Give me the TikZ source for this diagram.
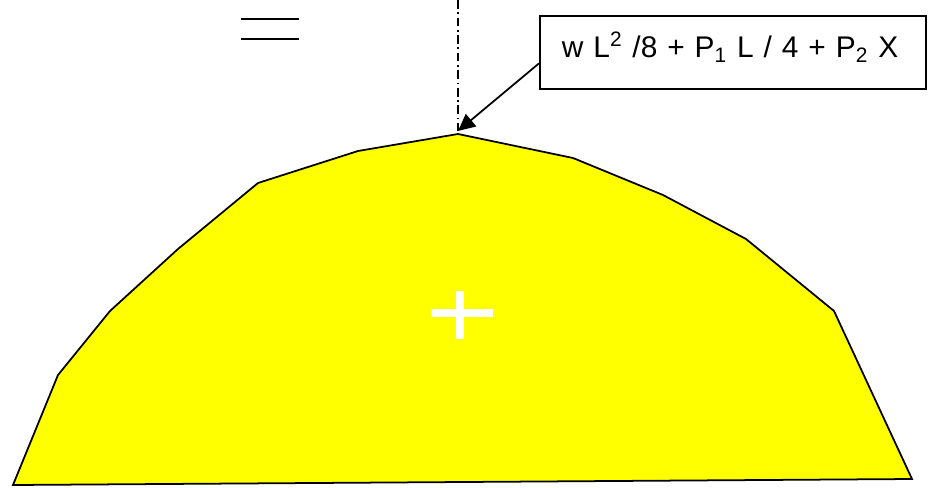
\documentclass[tikz,border=0pt]{standalone}
\usepackage{fontspec}
\setmainfont{Liberation Sans}
\usetikzlibrary{arrows.meta, positioning}
\definecolor{shapeyellow}{RGB}{255,255,0}
\newcommand{\valfont}{\fontsize{17}{20}\selectfont\spaceskip=0.2em plus 0.1em\relax}

\begin{document}
\begin{tikzpicture}[
    x=0.02cm, y=-0.02cm,
    shapefill/.style={draw=black, line width=1pt, fill=shapeyellow},
    valuebox/.style={rectangle, draw=black, line width=1pt, fill=white, anchor=north west, inner xsep=0.44cm, inner ysep=0pt, text width=6.84cm, align=left, text height=0.84cm, text depth=0.62cm, font=\valfont},
    arrow/.style={-{Triangle[length=0.34cm, width=0.32cm]}, line width=1pt},
    axisline/.style={dash pattern=on 5pt off 2pt on 1pt off 2pt, line width=0.8pt},
    crossline/.style={white, line width=0.16cm}
]
    \useasboundingbox (0,0) rectangle (932,487);

    % Yellow polygon (moment diagram)
    \draw [shapefill] (13,485) -- (58,375) -- (110,311) -- (178,249) -- (258,183) -- (358,151) -- (458,134)
        -- (573,158) -- (663,195) -- (746,239) -- (834,311) -- (912,479) -- cycle;
    \coordinate (apex) at (458,131);

    % White centroid cross
    \coordinate (centre) at (460,313);
    \draw [crossline] ([xshift=-0.58cm]centre) -- ([xshift=0.66cm]centre);
    \draw [crossline] ([yshift=0.44cm]centre) -- ([yshift=-0.52cm]centre);

    % Axis of symmetry
    \coordinate (axistop) at (458,0);
    \draw [axisline] (axistop) -- (apex);

    % Double line mark
    \coordinate (mark1) at (241,19);
    \coordinate (mark2) at (241,39);
    \draw [line width=1pt] (mark1) -- ++(58,0);
    \draw [line width=1pt] (mark2) -- ++(58,0);

    % Value box
    \node (val) [valuebox] at (539,15) {\mbox{w L\textsuperscript{2} /8 + P\textsubscript{1} L / 4 + P\textsubscript{2} X}};
    \draw [arrow] ([yshift=-0.22cm]val.west) -- (apex);
\end{tikzpicture}
\end{document}
